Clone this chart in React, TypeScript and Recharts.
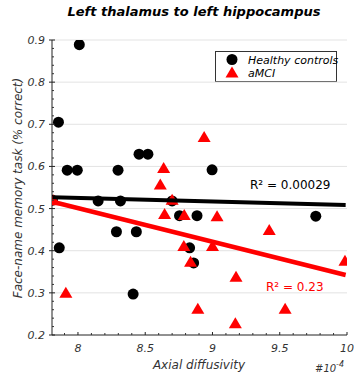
import React from 'react';
import { ComposedChart, Scatter, XAxis, YAxis, ReferenceLine, Customized } from 'recharts';

// Healthy controls: axial diffusivity (x 1e-4) vs face-name memory task score
const healthyControls = [
  { x: 8.01, y: 0.889 },
  { x: 7.855, y: 0.705 },
  { x: 7.92, y: 0.591 },
  { x: 7.995, y: 0.591 },
  { x: 8.298, y: 0.591 },
  { x: 8.454, y: 0.629 },
  { x: 8.52, y: 0.629 },
  { x: 8.997, y: 0.592 },
  { x: 7.81, y: 0.52 },
  { x: 7.861, y: 0.407 },
  { x: 8.15, y: 0.518 },
  { x: 8.316, y: 0.518 },
  { x: 8.286, y: 0.445 },
  { x: 8.434, y: 0.445 },
  { x: 8.41, y: 0.297 },
  { x: 8.7, y: 0.518 },
  { x: 8.755, y: 0.483 },
  { x: 8.885, y: 0.483 },
  { x: 8.83, y: 0.407 },
  { x: 8.86, y: 0.371 },
  { x: 9.768, y: 0.482 },
];

// aMCI group
const aMCI = [
  { x: 7.82, y: 0.52 },
  { x: 7.91, y: 0.3 },
  { x: 8.612, y: 0.557 },
  { x: 8.637, y: 0.596 },
  { x: 8.7, y: 0.521 },
  { x: 8.644, y: 0.487 },
  { x: 8.79, y: 0.485 },
  { x: 8.787, y: 0.411 },
  { x: 8.837, y: 0.374 },
  { x: 8.891, y: 0.262 },
  { x: 8.938, y: 0.67 },
  { x: 9.034, y: 0.482 },
  { x: 9.0, y: 0.411 },
  { x: 9.175, y: 0.338 },
  { x: 9.17, y: 0.228 },
  { x: 9.422, y: 0.449 },
  { x: 9.54, y: 0.262 },
  { x: 9.985, y: 0.376 },
];

// Regression fit lines (end points)
const healthyFit = [
  { x: 7.81, y: 0.527 },
  { x: 9.99, y: 0.5085 },
];
const amciFit = [
  { x: 7.81, y: 0.5163 },
  { x: 9.99, y: 0.3423 },
];

const xMajorTicks = [8, 8.5, 9, 9.5, 10];
const xMinorTicks = [7.9, 8.1, 8.2, 8.3, 8.4, 8.6, 8.7, 8.8, 8.9, 9.1, 9.2, 9.3, 9.4, 9.6, 9.7, 9.8, 9.9];
const yMajorTicks = [0.2, 0.3, 0.4, 0.5, 0.6, 0.7, 0.8, 0.9];
const yMinorTicks = [
  0.22, 0.24, 0.26, 0.28, 0.32, 0.34, 0.36, 0.38, 0.42, 0.44, 0.46, 0.48,
  0.52, 0.54, 0.56, 0.58, 0.62, 0.64, 0.66, 0.68, 0.72, 0.74, 0.76, 0.78,
  0.82, 0.84, 0.86, 0.88,
];
const gridValues = [0.3, 0.4, 0.5, 0.6, 0.7, 0.8, 0.9];

const seriesNames = ['Healthy controls', 'aMCI'];
const r2Labels = ['R\u00b2 = 0.00029', 'R\u00b2 = 0.23'];

const FONT = '"DejaVu Sans", sans-serif';
const RED = '#ff0000';

const isMajor = (list: number[], v: number) => list.some((m) => Math.abs(m - v) < 1e-6);

const CircleShape = (p: any) => <circle cx={p.cx} cy={p.cy} r={5.5} fill="#000" />;
const TriShape = (p: any) => (
  <polygon
    points={`${p.cx},${p.cy - 6} ${p.cx + 6.5},${p.cy + 5} ${p.cx - 6.5},${p.cy + 5}`}
    fill={RED}
  />
);
const NoShape = () => <g />;

const YTick = (props: any) => {
  const { x, y, payload } = props;
  const v = payload.value;
  if (isMajor(yMajorTicks, v)) {
    return (
      <g>
        <line x1={x - 3} x2={x + 3} y1={y} y2={y} stroke="#222" strokeWidth={1} />
        <text x={x - 7} y={y + 4} textAnchor="end" fontSize={11} fontStyle="italic" fontFamily={FONT} fill="#333">
          {v.toFixed(1)}
        </text>
      </g>
    );
  }
  return <line x1={x} x2={x + 2} y1={y} y2={y} stroke="#333" strokeWidth={1} />;
};

const XTick = (props: any) => {
  const { x, y, payload } = props;
  const v = payload.value;
  if (isMajor(xMajorTicks, v)) {
    return (
      <g>
        <line x1={x} x2={x} y1={y - 3} y2={y} stroke="#222" strokeWidth={1} />
        <text x={x} y={y + 17} textAnchor="middle" fontSize={11} fontStyle="italic" fontFamily={FONT} fill="#333">
          {String(v)}
        </text>
      </g>
    );
  }
  return <line x1={x} x2={x} y1={y - 2} y2={y} stroke="#333" strokeWidth={1} />;
};

const Annotations = () => (
  <g fontFamily={FONT}>
    <text x={194} y={16} textAnchor="middle" fontSize={13} fontWeight="bold" fontStyle="italic" fill="#000">
      Left thalamus to left hippocampus
    </text>
    <text
      transform="translate(22,188) rotate(-90)"
      textAnchor="middle"
      fontSize={12}
      fontStyle="italic"
      fill="#333"
    >
      Face-name memory task (% correct)
    </text>
    <text x={199} y={369} textAnchor="middle" fontSize={12} fontStyle="italic" fill="#333">
      Axial diffusivity
    </text>
    <text x={315} y={372} fontSize={10} fontStyle="italic" fill="#333">
      #10
      <tspan dy={-5} fontSize={8}>-4</tspan>
    </text>
    <text x={250} y={189} fontSize={12} fill="#000">{r2Labels[0]}</text>
    <text x={266} y={291} fontSize={12} fill={RED}>{r2Labels[1]}</text>
    {/* legend */}
    <rect x={215.5} y={51.5} width={121} height={30} fill="#fff" stroke="#333" strokeWidth={1} />
    <circle cx={232} cy={59.5} r={5.5} fill="#000" />
    <polygon points="232,66.5 238.5,77.5 225.5,77.5" fill={RED} />
    <text x={248} y={63.5} fontSize={11} fontStyle="italic" fill="#000">{seriesNames[0]}</text>
    <text x={248} y={76.5} fontSize={11} fontStyle="italic" fill="#000">{seriesNames[1]}</text>
  </g>
);

export default function App() {
  return (
    <div style={{ position: 'absolute', left: 0, top: 0, width: 354, height: 381, background: '#fff' }}>
      <ComposedChart
        width={354}
        height={381}
        margin={{ top: 40, right: 7, bottom: 0, left: 0 }}
      >
        <XAxis
          type="number"
          dataKey="x"
          domain={[7.807, 10]}
          allowDataOverflow
          ticks={[...xMajorTicks, ...xMinorTicks].sort((a, b) => a - b)}
          interval={0}
          tick={<XTick />}
          tickLine={false}
          tickSize={0}
          tickMargin={0}
          axisLine={{ stroke: '#222', strokeWidth: 1 }}
          height={46}
        />
        <YAxis
          type="number"
          dataKey="y"
          domain={[0.2, 0.9]}
          allowDataOverflow
          ticks={[...yMajorTicks, ...yMinorTicks].sort((a, b) => a - b)}
          interval={0}
          tick={<YTick />}
          tickLine={false}
          tickSize={0}
          tickMargin={0}
          axisLine={{ stroke: '#222', strokeWidth: 1 }}
          width={52}
        />
        {gridValues.map((v) => (
          <ReferenceLine key={v} y={v} stroke="#e3e3e3" strokeWidth={1} />
        ))}
        <Scatter name={seriesNames[0]} data={healthyControls} shape={<CircleShape />} isAnimationActive={false} />
        <Scatter name={seriesNames[1]} data={aMCI} shape={<TriShape />} isAnimationActive={false} />
        <Scatter
          data={healthyFit}
          line={{ stroke: '#000', strokeWidth: 4 }}
          shape={<NoShape />}
          legendType="none"
          isAnimationActive={false}
        />
        <Scatter
          data={amciFit}
          line={{ stroke: RED, strokeWidth: 4.5 }}
          shape={<NoShape />}
          legendType="none"
          isAnimationActive={false}
        />
        <Customized component={<Annotations />} />
      </ComposedChart>
    </div>
  );
}
